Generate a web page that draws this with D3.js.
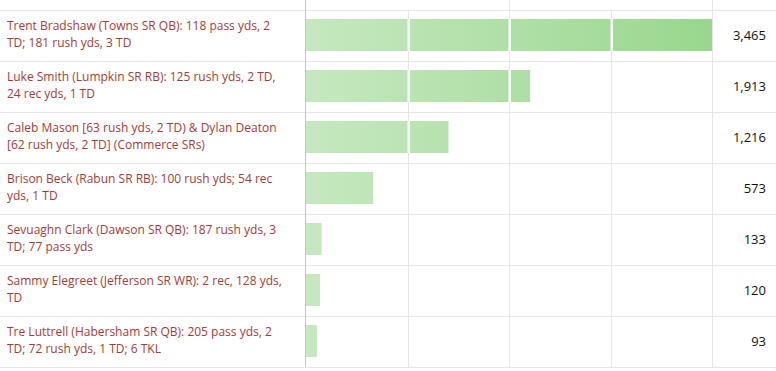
<!DOCTYPE html>
<html>
<head>
<meta charset="utf-8">
<script src="https://cdn.jsdelivr.net/npm/d3@7"></script>
<style>
  body { margin: 0; background: #fff; }
  svg { display: block; font-family: "Open Sans", sans-serif; }
</style>
</head>
<body>
<svg id="canvas" width="776" height="371"></svg>
<script>
let labels = [
    "Trent Bradshaw (Towns SR QB): 118 pass yds, 2 TD; 181 rush yds, 3 TD",
    "Luke Smith (Lumpkin SR RB): 125 rush yds, 2 TD, 24 rec yds, 1 TD",
    "Caleb Mason [63 rush yds, 2 TD) & Dylan Deaton [62 rush yds, 2 TD] (Commerce SRs)",
    "Brison Beck (Rabun SR RB): 100 rush yds; 54 rec yds, 1 TD",
    "Sevuaghn Clark (Dawson SR QB): 187 rush yds, 3 TD; 77 pass yds",
    "Sammy Elegreet (Jefferson SR WR): 2 rec, 128 yds, TD",
    "Tre Luttrell (Habersham SR QB): 205 pass yds, 2 TD; 72 rush yds, 1 TD; 6 TKL"
];
let votes = [3465, 1913, 1216, 573, 133, 120, 93];

let width = 776;
let topY = 10;
let rowH = 51;
let plotLeft = 306;
let plotRight = 712;
let bottomY = topY + rowH * labels.length;

let canvas = d3.select('#canvas');

let x = d3.scaleLinear()
    .domain([0, d3.max(votes)])
    .range([plotLeft, plotRight]);

let y = d3.scaleBand()
    .domain(d3.range(labels.length))
    .range([topY, bottomY]);

let gridTicks = [0.25, 0.5, 0.75, 1].map((f) => d3.max(votes) * f);

let defs = canvas.append('defs');
let grad = defs.append('linearGradient')
    .attr('id', 'barGrad')
    .attr('gradientUnits', 'userSpaceOnUse')
    .attr('x1', plotLeft).attr('x2', plotRight)
    .attr('y1', 0).attr('y2', 0);
grad.append('stop').attr('offset', '0%').attr('stop-color', '#c6e8c0');
grad.append('stop').attr('offset', '100%').attr('stop-color', '#99d78d');

// row separators
canvas.selectAll('line.row')
    .data(d3.range(labels.length + 1))
    .enter()
    .append('line')
    .attr('class', 'row')
    .attr('x1', 0).attr('x2', width)
    .attr('y1', (i) => topY + i * rowH + 0.5)
    .attr('y2', (i) => topY + i * rowH + 0.5)
    .attr('stroke', '#e8e8e8');

// vertical gridlines
canvas.selectAll('line.grid')
    .data(gridTicks)
    .enter()
    .append('line')
    .attr('class', 'grid')
    .attr('x1', (d) => Math.round(x(d)) + 0.5)
    .attr('x2', (d) => Math.round(x(d)) + 0.5)
    .attr('y1', (d, i) => i % 2 === 1 ? 0 : topY)
    .attr('y2', bottomY)
    .attr('stroke', '#e6e6e6');

// axis line
canvas.append('line')
    .attr('x1', plotLeft - 0.5).attr('x2', plotLeft - 0.5)
    .attr('y1', 0).attr('y2', bottomY)
    .attr('stroke', '#c4c4c4');

// bars
canvas.selectAll('rect.bar')
    .data(votes)
    .enter()
    .append('rect')
    .attr('class', 'bar')
    .attr('x', x(0))
    .attr('y', (d, i) => y(i) + 9)
    .attr('width', (d) => x(d) - x(0))
    .attr('height', 32)
    .attr('fill', 'url(#barGrad)');

// white gaps where gridlines cross bars
votes.forEach((v, i) => {
    gridTicks.filter((t) => t < v).forEach((t) => {
        canvas.append('rect')
            .attr('x', Math.round(x(t)) - 0.5)
            .attr('y', y(i) + 9)
            .attr('width', 2.5)
            .attr('height', 32)
            .attr('fill', '#fff');
    });
});

// value labels
canvas.selectAll('text.value')
    .data(votes)
    .enter()
    .append('text')
    .attr('class', 'value')
    .attr('x', 766)
    .attr('y', (d, i) => y(i) + 30)
    .attr('text-anchor', 'end')
    .attr('font-size', 13)
    .attr('fill', '#111')
    .text((d) => d3.format(',')(d));

// category labels, wrapped
let wrapWidth = 275;
labels.forEach((label, i) => {
    let t = canvas.append('text')
        .attr('font-size', 12)
        .attr('fill', '#a33c38');
    let words = label.split(' ');
    let lines = [];
    let line = [];
    let probe = canvas.append('text').attr('font-size', 12);
    words.forEach((w) => {
        line.push(w);
        probe.text(line.join(' '));
        if (probe.node().getComputedTextLength() > wrapWidth && line.length > 1) {
            line.pop();
            lines.push(line.join(' '));
            line = [w];
        }
    });
    lines.push(line.join(' '));
    probe.remove();
    lines.forEach((l, j) => {
        t.append('tspan')
            .attr('x', 7)
            .attr('y', y(i) + 20 + j * 17)
            .text(l);
    });
});
</script>
</body>
</html>
